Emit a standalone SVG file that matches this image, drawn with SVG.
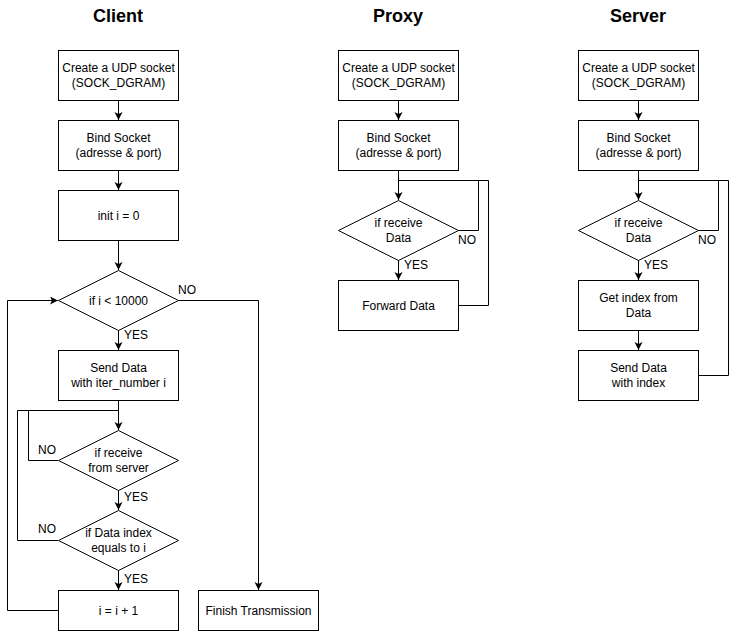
<svg xmlns="http://www.w3.org/2000/svg" width="736" height="638" viewBox="0 0 736 638">
<defs>
<marker id="arr" markerWidth="10" markerHeight="10" refX="8" refY="4" orient="auto" markerUnits="userSpaceOnUse">
<path d="M0,0 L8,4 L0,8 L2,4 Z" fill="#000"/>
</marker>
<style>
.b{fill:#fff;stroke:#000;stroke-width:1}
.t{font-family:"Liberation Sans",Arial,sans-serif;font-size:12px;fill:#000;text-anchor:middle}
.l{font-family:"Liberation Sans",Arial,sans-serif;font-size:12px;fill:#000}
.h{font-family:"Liberation Sans",Arial,sans-serif;font-size:18px;font-weight:bold;fill:#000;text-anchor:middle}
.c{fill:none;stroke:#000;stroke-width:1}
.a{fill:none;stroke:#000;stroke-width:1;marker-end:url(#arr)}
</style>
</defs>
<rect width="736" height="638" fill="#fff"/>
<text class="h" x="118" y="22">Client</text>
<text class="h" x="398" y="22">Proxy</text>
<text class="h" x="638" y="22">Server</text>

<g id="connectors">
<!-- client -->
<path class="a" d="M118.5,100 V120"/>
<path class="a" d="M118.5,170 V190"/>
<path class="a" d="M118.5,240 V270"/>
<path class="a" d="M118.5,330 V350"/>
<path class="a" d="M118.5,400 V430"/>
<path class="c" d="M58,460.5 H28.5 V410.5 H118.5"/>
<path class="a" d="M118.5,490 V510"/>
<path class="c" d="M58,540.5 H17.5 V410.5 H118.5"/>
<path class="a" d="M118.5,570 V590"/>
<path class="a" d="M58,610.5 H7.5 V300.5 H58"/>
<path class="a" d="M178,300.5 H258.5 V590"/>
<!-- proxy -->
<path class="a" d="M398.5,100 V120"/>
<path class="a" d="M398.5,170 V200"/>
<path class="c" d="M458,230.5 H478.5 V180.5 H398.5"/>
<path class="a" d="M398.5,260 V280"/>
<path class="c" d="M458,305.5 H488.5 V180.5 H398.5"/>
<!-- server -->
<path class="a" d="M638.5,100 V120"/>
<path class="a" d="M638.5,170 V200"/>
<path class="c" d="M698,230.5 H718.5 V180.5 H638.5"/>
<path class="a" d="M638.5,260 V280"/>
<path class="a" d="M638.5,330 V350"/>
<path class="c" d="M698,375.5 H728.5 V180.5 H638.5"/>
<!-- labels -->
<text class="l" x="178" y="294">NO</text>
<text class="l" x="124" y="339">YES</text>
<text class="l" x="38" y="454">NO</text>
<text class="l" x="124" y="501">YES</text>
<text class="l" x="38" y="533">NO</text>
<text class="l" x="124" y="583">YES</text>
<text class="l" x="458" y="244">NO</text>
<text class="l" x="404" y="269">YES</text>
<text class="l" x="698" y="244">NO</text>
<text class="l" x="644" y="269">YES</text>
</g>

<g id="c1"><rect class="b" x="58.5" y="50.5" width="120" height="50"/><text class="t" x="118.5" y="72">Create a UDP socket</text><text class="t" x="118.5" y="87">(SOCK_DGRAM)</text></g>
<g id="c2"><rect class="b" x="58.5" y="120.5" width="120" height="50"/><text class="t" x="118.5" y="142">Bind Socket</text><text class="t" x="118.5" y="157">(adresse &amp; port)</text></g>
<g id="c3"><rect class="b" x="58.5" y="190.5" width="120" height="50"/><text class="t" x="118.5" y="219.5">init i = 0</text></g>
<g id="c4"><path class="b" d="M118.5,270.5 L178.5,300.5 L118.5,330.5 L58.5,300.5 Z"/><text class="t" x="118.5" y="304.5">if i &lt; 10000</text></g>
<g id="c5"><rect class="b" x="58.5" y="350.5" width="120" height="50"/><text class="t" x="118.5" y="372">Send Data</text><text class="t" x="118.5" y="387">with iter_number i</text></g>
<g id="c6"><path class="b" d="M118.5,430.5 L178.5,460.5 L118.5,490.5 L58.5,460.5 Z"/><text class="t" x="118.5" y="457">if receive</text><text class="t" x="118.5" y="472">from server</text></g>
<g id="c7"><path class="b" d="M118.5,510.5 L178.5,540.5 L118.5,570.5 L58.5,540.5 Z"/><text class="t" x="118.5" y="537">if Data index</text><text class="t" x="118.5" y="552">equals to i</text></g>
<g id="c8"><rect class="b" x="58.5" y="590.5" width="120" height="40"/><text class="t" x="118.5" y="614.5">i = i + 1</text></g>
<g id="c9"><rect class="b" x="198.5" y="590.5" width="120" height="40"/><text class="t" x="258.5" y="614.5">Finish Transmission</text></g>

<g id="p1"><rect class="b" x="338.5" y="50.5" width="120" height="50"/><text class="t" x="398.5" y="72">Create a UDP socket</text><text class="t" x="398.5" y="87">(SOCK_DGRAM)</text></g>
<g id="p2"><rect class="b" x="338.5" y="120.5" width="120" height="50"/><text class="t" x="398.5" y="142">Bind Socket</text><text class="t" x="398.5" y="157">(adresse &amp; port)</text></g>
<g id="p3"><path class="b" d="M398.5,200.5 L458.5,230.5 L398.5,260.5 L338.5,230.5 Z"/><text class="t" x="398.5" y="227">if receive</text><text class="t" x="398.5" y="242">Data</text></g>
<g id="p4"><rect class="b" x="338.5" y="280.5" width="120" height="50"/><text class="t" x="398.5" y="309.5">Forward Data</text></g>

<g id="s1"><rect class="b" x="578.5" y="50.5" width="120" height="50"/><text class="t" x="638.5" y="72">Create a UDP socket</text><text class="t" x="638.5" y="87">(SOCK_DGRAM)</text></g>
<g id="s2"><rect class="b" x="578.5" y="120.5" width="120" height="50"/><text class="t" x="638.5" y="142">Bind Socket</text><text class="t" x="638.5" y="157">(adresse &amp; port)</text></g>
<g id="s3"><path class="b" d="M638.5,200.5 L698.5,230.5 L638.5,260.5 L578.5,230.5 Z"/><text class="t" x="638.5" y="227">if receive</text><text class="t" x="638.5" y="242">Data</text></g>
<g id="s4"><rect class="b" x="578.5" y="280.5" width="120" height="50"/><text class="t" x="638.5" y="302">Get index from</text><text class="t" x="638.5" y="317">Data</text></g>
<g id="s5"><rect class="b" x="578.5" y="350.5" width="120" height="50"/><text class="t" x="638.5" y="372">Send Data</text><text class="t" x="638.5" y="387">with index</text></g>
</svg>
